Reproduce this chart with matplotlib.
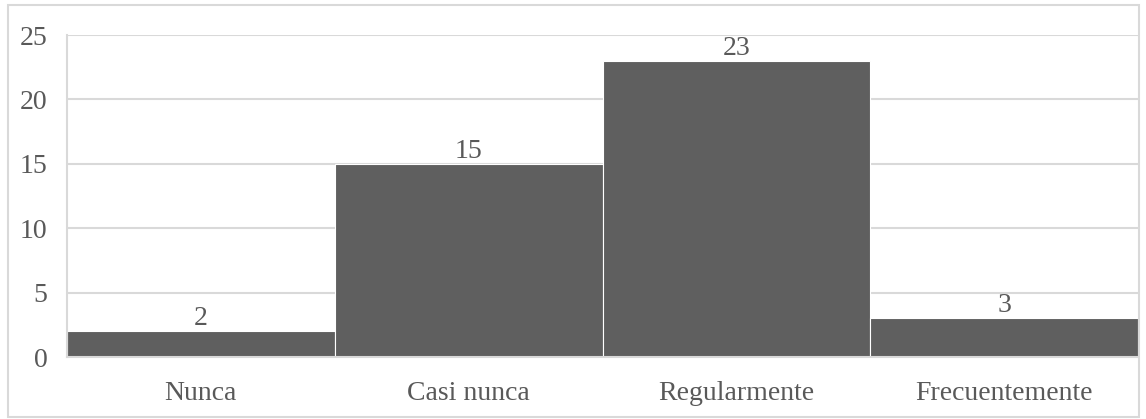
import matplotlib.pyplot as plt
from matplotlib.patches import Rectangle

# frecuencia de respuestas
categorias = ["Nunca", "Casi nunca", "Regularmente", "Frecuentemente"]
valores = [2, 15, 23, 3]
ticks_y = [0, 5, 10, 15, 20, 25]

gris_barra = "#5f5f5f"
gris_texto = "#595959"
gris_linea = "#d9d9d9"

plt.rcParams["font.family"] = ["Liberation Serif", "DejaVu Serif"]

fig = plt.figure(figsize=(11.46, 4.19), dpi=100)
ax = fig.add_axes([67 / 1146, 62 / 419, 1071 / 1146, 322 / 419])

# barras pegadas, separadas solo por un borde blanco
x = range(len(categorias))
bars = ax.bar(x, valores, width=1.0, color=gris_barra, edgecolor="white", linewidth=0.8, zorder=2)

for b, v in zip(bars, valores):
    ax.annotate(str(v), (b.get_x() + b.get_width() / 2, v), xytext=(0, 0),
                textcoords="offset points", ha="center", va="bottom",
                fontsize=20, color=gris_texto)

ax.set_xlim(-0.5, len(categorias) - 0.5)
ax.set_ylim(0, 25)
ax.set_yticks(ticks_y)
ax.set_xticks(list(x))
ax.set_xticklabels(categorias)

ax.yaxis.grid(True, color=gris_linea, linewidth=1.5, zorder=0)
ax.set_axisbelow(True)

for s in ["top", "right"]:
    ax.spines[s].set_visible(False)
ax.spines["left"].set_color(gris_linea)
ax.spines["left"].set_linewidth(1.5)
ax.spines["bottom"].set_color(gris_linea)
ax.spines["bottom"].set_linewidth(1.5)

ax.tick_params(axis="both", length=0, labelsize=20, labelcolor=gris_texto)
ax.tick_params(axis="y", pad=14)
ax.tick_params(axis="x", pad=17)

# marco exterior del gráfico
fig.patches.append(Rectangle((8 / 1146, 2 / 419), 1131 / 1146, 412 / 419,
                             transform=fig.transFigure, fill=False,
                             edgecolor=gris_linea, linewidth=1.5))

fig.savefig("out.png", dpi=100)
